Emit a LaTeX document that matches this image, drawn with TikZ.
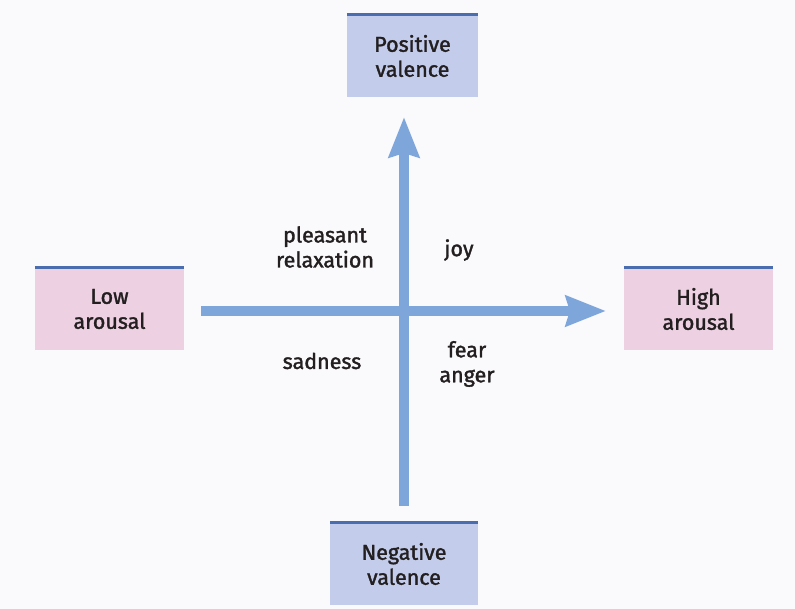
\documentclass[tikz,border=0pt]{standalone}
\usepackage{fontspec}
\setmainfont{Fira Sans}[RawFeature={embolden=1.6}]
\usetikzlibrary{arrows.meta}
\definecolor{bgc}{HTML}{FAFAFD}
\definecolor{bluebox}{HTML}{C3CCEA}
\definecolor{pinkbox}{HTML}{EDD0E2}
\definecolor{topline}{HTML}{4A6DB0}
\definecolor{arrowc}{HTML}{7EA6DA}
\definecolor{txt}{HTML}{231F20}
\tikzset{
  every node/.style={text=txt, font=\fontsize{21.5}{25}\selectfont, align=center},
  valbox/.style={fill=bluebox, minimum width=131pt, minimum height=82pt, inner sep=0pt},
  arobox/.style={fill=pinkbox, minimum width=149pt, minimum height=83pt, inner sep=0pt},
  axis/.style={draw=arrowc, line width=10pt, -{Stealth[length=40pt,width=30pt,inset=4pt]}},
  topbar/.style={draw=topline, line width=3pt},
  lbl/.style={inner sep=0pt}
}
\begin{document}
\begin{tikzpicture}[x=1pt,y=-1pt]
\useasboundingbox (0,0) rectangle (795,609);
\fill[bgc] (0,0) rectangle (795,609);
\node[valbox] (pos) at (412.5,56) {Positive\\valence};
\node[valbox,minimum width=148pt] (neg) at (404,564) {Negative\\valence};
\node[arobox] (low) at (109.5,309) {Low\\arousal};
\node[arobox] (high) at (698.5,309) {High\\arousal};
\draw[topbar] (pos.north west) -- (pos.north east);
\draw[topbar] (neg.north west) -- (neg.north east);
\draw[topbar] (low.north west) -- (low.north east);
\draw[topbar] (high.north west) -- (high.north east);
\coordinate (vs) at (404,506);
\coordinate (ve) at (404,117);
\coordinate (hs) at (201,311);
\coordinate (he) at (606,311);
\draw[axis] (vs) -- (ve);
\draw[axis] (hs) -- (he);
\node[lbl] (pr) at (325,247) {pleasant\\relaxation};
\node[lbl] (joy) at (459,250) {joy};
\node[lbl] (sad) at (322,361) {sadness};
\node[lbl] (fa) at (467,364) {fear\\anger};
\end{tikzpicture}
\end{document}
